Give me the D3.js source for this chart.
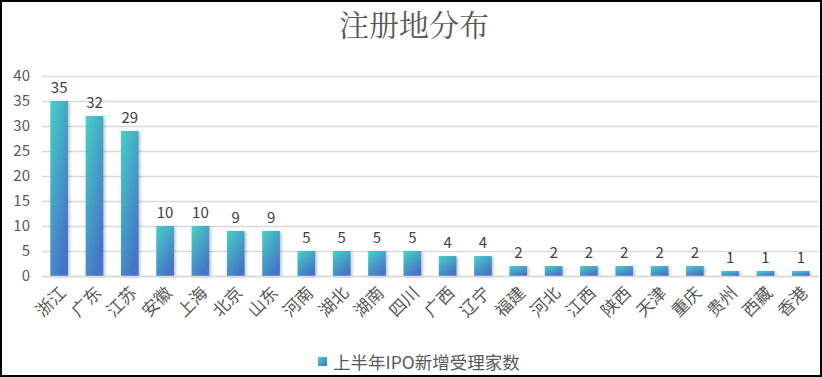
<!DOCTYPE html>
<html><head><meta charset="utf-8">
<script src="https://cdn.jsdelivr.net/npm/d3@7/dist/d3.min.js"></script>
<style>body{margin:0;background:#fff}svg{display:block}</style>
</head><body>
<script>
const categories = ["浙江","广东","江苏","安徽","上海","北京","山东","河南","湖北","湖南","四川","广西","辽宁","福建","河北","江西","陕西","天津","重庆","贵州","西藏","香港"];
const values = [35,32,29,10,10,9,9,5,5,5,5,4,4,2,2,2,2,2,2,1,1,1];
const yTicks = [0,5,10,15,20,25,30,35,40];
const title = "注册地分布";
const seriesName = "上半年IPO新增受理家数";

const W = 822, H = 377;
const font = "'Noto Sans CJK SC','Noto Sans',sans-serif";
const svg = d3.select("body").append("svg").attr("width", W).attr("height", H);
const defs = svg.append("defs");
const grad = defs.append("linearGradient").attr("id","bg").attr("x1",0).attr("y1",0).attr("x2",0.6).attr("y2",1);
grad.append("stop").attr("offset","0%").attr("stop-color","#46d1c6");
grad.append("stop").attr("offset","100%").attr("stop-color","#4474c8");
const f = defs.append("filter").attr("id","sh").attr("x","-30%").attr("y","-10%").attr("width","160%").attr("height","120%");
f.append("feDropShadow").attr("dx",1.5).attr("dy",1).attr("stdDeviation",1.5).attr("flood-color","#000").attr("flood-opacity",0.25);

svg.append("rect").attr("x",1).attr("y",1).attr("width",W-2).attr("height",H-2).attr("fill","#fff").attr("stroke","#000").attr("stroke-width",2);

svg.append("text").attr("x",414).attr("y",36).attr("text-anchor","middle")
  .attr("font-family","'Noto Serif CJK SC','Noto Sans CJK SC',serif").attr("font-size",30).attr("fill","#595959").text(title);

const x = d3.scaleBand().domain(categories).range([41.5,818.5]).paddingInner(0.5).paddingOuter(0.25);
const y = d3.scaleLinear().domain([0,40]).range([276,76]);

const g = svg.append("g");
g.selectAll("line.grid").data(yTicks).join("line").attr("class","grid")
  .attr("x1",42).attr("x2",819).attr("y1",d=>y(d)+0.5).attr("y2",d=>y(d)+0.5)
  .attr("stroke","#d9d9d9").attr("stroke-width",1.3);

const yAxis = g.append("g").attr("transform","translate(42,0)")
  .call(d3.axisLeft(y).tickValues(yTicks).tickSize(0).tickPadding(12));
yAxis.select(".domain").remove();
yAxis.selectAll("text").attr("font-family",font).attr("font-size",15).attr("fill","#595959").attr("x",-12);

g.selectAll("rect.bar").data(values).join("rect").attr("class","bar")
  .attr("x",(d,i)=>x(categories[i])).attr("width",x.bandwidth())
  .attr("y",d=>y(d)).attr("height",d=>y(0)-y(d))
  .attr("fill","url(#bg)").attr("filter","url(#sh)");

g.selectAll("text.val").data(values).join("text").attr("class","val")
  .attr("x",(d,i)=>x(categories[i])+x.bandwidth()/2).attr("y",d=>y(d)-8)
  .attr("text-anchor","middle").attr("font-family",font).attr("font-size",15).attr("fill","#404040").text(d=>d);

const xAxis = g.append("g").attr("transform","translate(0,276)")
  .call(d3.axisBottom(x).tickSize(0).tickPadding(0));
xAxis.select(".domain").attr("stroke","#d9d9d9").attr("stroke-width",1.3);
xAxis.selectAll("text").attr("font-family",font).attr("font-size",17).attr("fill","#595959")
  .attr("text-anchor","end").attr("dy",0).attr("y",0)
  .attr("transform","translate(8,18) rotate(-45)");

const lg = svg.append("g").attr("transform","translate(318,357)");
const lgrad = defs.append("linearGradient").attr("id","lg").attr("x1",0).attr("y1",0).attr("x2",1).attr("y2",1);
lgrad.append("stop").attr("offset","0%").attr("stop-color","#46d1c6");
lgrad.append("stop").attr("offset","100%").attr("stop-color","#4474c8");
lg.append("rect").attr("x",0).attr("y",0).attr("width",9).attr("height",9).attr("fill","url(#lg)");
lg.append("text").attr("x",15).attr("y",4.5).attr("font-family",font).attr("font-size",17.5).attr("fill","#595959").attr("dominant-baseline","central").text(seriesName);
</script>
</body></html>
